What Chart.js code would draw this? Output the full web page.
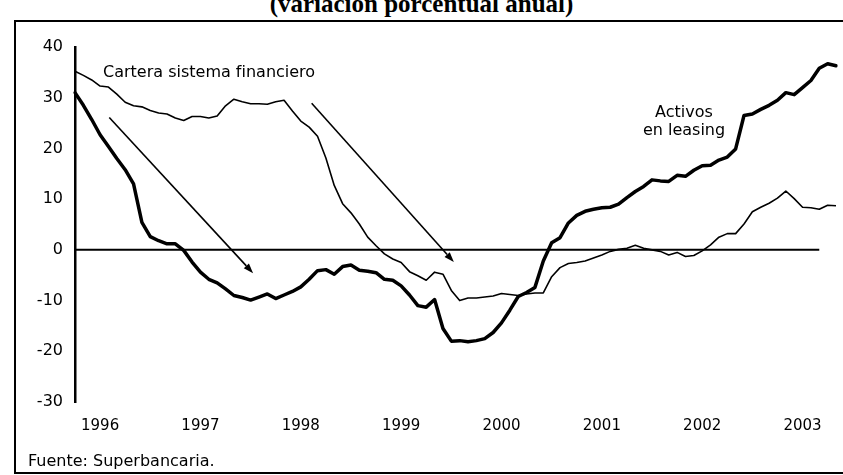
<!DOCTYPE html>
<html lang="es">
<head>
<meta charset="utf-8">
<title>Activos en leasing y cartera del sistema financiero</title>
<script src="https://cdn.jsdelivr.net/npm/chart.js@4.4.1/dist/chart.umd.min.js"></script>
<style>
  html, body { margin: 0; padding: 0; background: #fff; }
  #wrap { position: relative; width: 843px; height: 475px; overflow: hidden; font-family: "DejaVu Sans", sans-serif; color: #000; }
  #chart { position: absolute; left: 0; top: 0; }
  .frame { position: absolute; left: 14px; top: 20px; width: 850px; height: 450px; border-left: 2px solid #000; border-top: 2px solid #000; border-bottom: 2px solid #000; }
  .title { position: absolute; left: 0; top: -9px; width: 843px; text-align: center; font: bold 25px/25px "Liberation Serif", serif; }
  .note { position: absolute; font-size: 16px; line-height: 16px; white-space: nowrap; }
  .note.two { text-align: center; width: 110px; line-height: 18px; }
</style>
</head>
<body>
<div id="wrap">
  <div class="title">(variación porcentual anual)</div>
  <div class="frame"></div>
  <canvas id="chart" width="843" height="475"></canvas>
  <div class="note" style="left:103px; top:64px;">Cartera sistema financiero</div>
  <div class="note two" style="left:629px; top:103px;">Activos<br>en leasing</div>
  <div class="note" style="left:28px; top:453px;">Fuente: Superbancaria.</div>
</div>
<script>
// monthly series, April 1996 - November 2003
const startYear = 1996;
const startMonth = 4;
const monthCount = 92;

const years = ["1996", "1997", "1998", "1999", "2000", "2001", "2002", "2003"];

// Activos en leasing (var. % anual)
const leasing = [
  31.0, 28.5, 25.7, 22.7, 20.4, 18.0, 15.8, 13.0, 5.4, 2.6,
  1.8, 1.2, 1.2, -0.1, -2.4, -4.4, -5.8, -6.5, -7.7, -9.0,
  -9.4, -9.9, -9.3, -8.7, -9.6, -8.9, -8.2, -7.3, -5.8, -4.1,
  -3.9, -4.8, -3.3, -3.0, -4.0, -4.2, -4.5, -5.8, -6.0, -7.1,
  -8.9, -11.0, -11.3, -9.8, -15.5, -18.0, -17.9, -18.1, -17.9, -17.5,
  -16.3, -14.4, -11.9, -9.2, -8.4, -7.4, -2.2, 1.4, 2.4, 5.3,
  6.8, 7.6, 8.0, 8.3, 8.4, 9.0, 10.3, 11.5, 12.5, 13.8,
  13.6, 13.5, 14.7, 14.5, 15.7, 16.6, 16.7, 17.7, 18.3, 19.9,
  26.5, 26.8, 27.7, 28.5, 29.5, 31.0, 30.6, 32.0, 33.4, 35.8,
  36.7, 36.3
];

// Cartera sistema financiero (var. % anual)
const cartera = [
  35.2, 34.4, 33.5, 32.3, 32.1, 30.7, 29.1, 28.4, 28.2, 27.5,
  27.0, 26.8, 26.0, 25.5, 26.3, 26.3, 26.0, 26.4, 28.4, 29.7,
  29.2, 28.8, 28.8, 28.7, 29.2, 29.5, 27.4, 25.4, 24.2, 22.4,
  18.1, 12.7, 9.1, 7.3, 5.1, 2.5, 0.8, -0.8, -1.8, -2.5,
  -4.3, -5.1, -6.0, -4.4, -4.8, -8.0, -10.0, -9.5, -9.5, -9.3,
  -9.1, -8.6, -8.8, -9.0, -8.7, -8.5, -8.5, -5.3, -3.5, -2.7,
  -2.5, -2.2, -1.6, -1.0, -0.3, 0.1, 0.3, 0.9, 0.3, 0.0,
  -0.3, -1.0, -0.5, -1.3, -1.1, -0.2, 1.0, 2.5, 3.2, 3.2,
  5.1, 7.5, 8.4, 9.2, 10.2, 11.6, 10.1, 8.4, 8.3, 8.0,
  8.8, 8.7
];

// arrows drawn over the plot, [month index, value]
const arrowStarts = [[4.1, 26.1], [28.3, 28.9]];
const arrowEnds = [[21.3, -4.6], [45.3, -2.4]];

// zero reference line stops short of the last month
const zeroLineEnd = 89;

const months = [];
for (let i = 0; i < monthCount; i++) {
  const m = startMonth - 1 + i;
  const y = startYear + Math.floor(m / 12);
  months.push(y + "-" + String((m % 12) + 1).padStart(2, "0"));
}

const extras = {
  id: "extras",
  beforeDatasetsDraw(chart) {
    const { ctx, scales: { x, y }, chartArea } = chart;
    const y0 = y.getPixelForValue(0);
    ctx.save();
    ctx.strokeStyle = "#000";
    ctx.lineWidth = 2;
    ctx.beginPath();
    ctx.moveTo(chartArea.left, y0);
    ctx.lineTo(x.getPixelForValue(zeroLineEnd), y0);
    ctx.stroke();
    ctx.restore();
  },
  afterDatasetsDraw(chart) {
    const { ctx, scales: { x, y } } = chart;
    ctx.save();
    ctx.strokeStyle = "#000";
    ctx.fillStyle = "#000";
    ctx.lineWidth = 1.6;
    arrowStarts.forEach((s, i) => {
      const e = arrowEnds[i];
      const x1 = x.getPixelForValue(s[0]), y1 = y.getPixelForValue(s[1]);
      const x2 = x.getPixelForValue(e[0]), y2 = y.getPixelForValue(e[1]);
      const a = Math.atan2(y2 - y1, x2 - x1);
      const len = 10, half = 3.5;
      const bx = x2 - len * Math.cos(a), by = y2 - len * Math.sin(a);
      ctx.beginPath();
      ctx.moveTo(x1, y1);
      ctx.lineTo(bx, by);
      ctx.stroke();
      ctx.beginPath();
      ctx.moveTo(x2, y2);
      ctx.lineTo(bx + half * Math.sin(a), by - half * Math.cos(a));
      ctx.lineTo(bx - half * Math.sin(a), by + half * Math.cos(a));
      ctx.closePath();
      ctx.fill();
    });
    ctx.restore();
  }
};

new Chart(document.getElementById("chart"), {
  type: "line",
  data: {
    labels: months,
    datasets: [
      {
        label: "Activos en leasing",
        data: leasing,
        borderColor: "#000",
        borderWidth: 3.5,
        borderJoinStyle: "round",
        borderCapStyle: "round",
        pointRadius: 0,
        tension: 0
      },
      {
        label: "Cartera sistema financiero",
        data: cartera,
        borderColor: "#000",
        borderWidth: 1.6,
        borderJoinStyle: "round",
        pointRadius: 0,
        tension: 0
      }
    ]
  },
  options: {
    responsive: false,
    animation: false,
    devicePixelRatio: 1,
    layout: { padding: { top: 47, right: 7, bottom: 28, left: 0 } },
    plugins: {
      legend: { display: false },
      tooltip: { enabled: false }
    },
    scales: {
      x: {
        grid: { display: false, drawTicks: false },
        border: { display: false },
        afterFit: (scale) => { scale.height = 45; },
        ticks: {
          autoSkip: false,
          maxRotation: 0,
          padding: 15,
          color: "#000",
          font: { family: "DejaVu Sans", size: 15 },
          callback: (value, index) => {
            const label = months[index];
            return label.endsWith("-07") ? years[years.indexOf(label.slice(0, 4))] : null;
          }
        }
      },
      y: {
        min: -30,
        max: 40,
        grid: { display: false, drawTicks: false },
        border: { display: true, color: "#000", width: 2.5 },
        afterFit: (scale) => { scale.width = 75; },
        ticks: {
          stepSize: 10,
          padding: 12,
          color: "#000",
          font: { family: "DejaVu Sans", size: 16 }
        }
      }
    }
  },
  plugins: [extras]
});
</script>
</body>
</html>
